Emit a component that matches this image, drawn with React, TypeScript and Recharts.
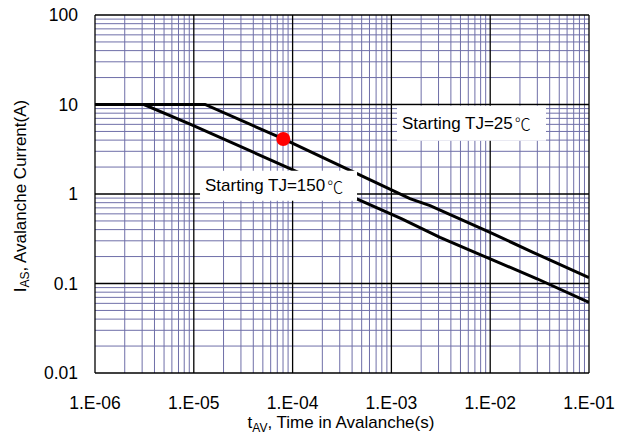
import React from 'react';
import {
  ComposedChart,
  Line,
  Scatter,
  XAxis,
  YAxis,
  ReferenceLine,
  ReferenceArea,
  Label,
} from 'recharts';

// axis ticks
const xTicks = [1e-6, 1e-5, 1e-4, 1e-3, 1e-2, 1e-1];
const xTickLabels = ['1.E-06', '1.E-05', '1.E-04', '1.E-03', '1.E-02', '1.E-01'];
const yTicks = [0.01, 0.1, 1, 10, 100];
const yTickLabels = ['0.01', '0.1', '1', '10', '100'];
const minorSteps = [2, 3, 4, 5, 6, 7, 8, 9];

// Starting TJ=25C curve
const tj25Time = [1e-6, 1.3e-5, 8.05e-5, 2.57e-4, 1.54e-3, 2.46e-3, 9.95e-3, 2.71e-2, 1e-1];
const tj25Current = [10, 10, 4.12, 2.25, 0.886, 0.74, 0.372, 0.223, 0.116];

// Starting TJ=150C curve
const tj150Time = [1e-6, 3.13e-6, 9.16e-6, 9.42e-5, 4.46e-4, 1.26e-3, 3.1e-3, 1e-2, 2.98e-2, 1e-1];
const tj150Current = [10, 10, 6.05, 1.92, 0.88, 0.53, 0.327, 0.188, 0.113, 0.0615];

// marked point
const dotTime = [8.05e-5];
const dotCurrent = [4.12];

const FONT = '"Liberation Sans", Arial, sans-serif';
const CJK = '"Noto Sans CJK SC", sans-serif';
const GRID = '#6f6fa8';

const toPoints = (xs: number[], ys: number[]) => xs.map((x, i) => ({ x, y: ys[i] }));

const tj25Data = toPoints(tj25Time, tj25Current);
const tj150Data = toPoints(tj150Time, tj150Current);
const dotData = toPoints(dotTime, dotCurrent);

const minorX = xTicks.slice(0, -1).flatMap(d => minorSteps.map(m => d * m));
const minorY = yTicks.slice(0, -1).flatMap(d => minorSteps.map(m => d * m));

const BoxText = ({ viewBox, text }: any) => (
  <text
    x={viewBox.x + 5}
    y={viewBox.y + viewBox.height / 2}
    dominantBaseline="central"
    fontSize={17}
    fontFamily={FONT}
    fill="#000"
  >
    {text}
    <tspan dx={2} fontFamily={CJK} fontSize={16} fontWeight={300}>℃</tspan>
  </text>
);

const App = () => {
  return (
    <div style={{ position: 'absolute', left: 0, top: 0, width: 626, height: 436, background: '#fff' }}>
      <ComposedChart width={626} height={436} margin={{ top: 15, right: 37, bottom: 0, left: 0 }}>
        <XAxis
          type="number"
          dataKey="x"
          scale="log"
          domain={[1e-6, 1e-1]}
          allowDataOverflow
          ticks={xTicks}
          interval={0}
          tickFormatter={(v: number) => xTickLabels[xTicks.indexOf(v)]}
          axisLine={false}
          tickLine={false}
          tickSize={0}
          tickMargin={24}
          height={63}
          tick={{ fill: '#000', fontSize: 17.5, fontFamily: FONT }}
        />
        <YAxis
          type="number"
          dataKey="y"
          scale="log"
          domain={[0.01, 100]}
          allowDataOverflow
          ticks={yTicks}
          interval={0}
          tickFormatter={(v: number) => yTickLabels[yTicks.indexOf(v)]}
          axisLine={false}
          tickLine={false}
          tickSize={0}
          tickMargin={17}
          width={95}
          tick={{ fill: '#000', fontSize: 17.5, fontFamily: FONT }}
        />

        {minorX.map(v => (
          <ReferenceLine key={`mx${v}`} x={v} stroke={GRID} strokeWidth={1} zIndex={10} />
        ))}
        {minorY.map(v => (
          <ReferenceLine key={`my${v}`} y={v} stroke={GRID} strokeWidth={1} zIndex={10} />
        ))}
        {xTicks.map(v => (
          <ReferenceLine key={`Mx${v}`} x={v} stroke="#000" strokeWidth={1.3} zIndex={11} />
        ))}
        {yTicks.map(v => (
          <ReferenceLine key={`My${v}`} y={v} stroke="#000" strokeWidth={1.3} zIndex={11} />
        ))}

        <Line
          data={tj25Data}
          dataKey="y"
          type="linear"
          stroke="#000"
          strokeWidth={3}
          dot={false}
          isAnimationActive={false}
        />
        <Line
          data={tj150Data}
          dataKey="y"
          type="linear"
          stroke="#000"
          strokeWidth={3}
          dot={false}
          isAnimationActive={false}
        />

        <ReferenceArea
          x1={1.14e-3}
          x2={3.67e-2}
          y1={3.94}
          y2={9.7}
          fill="#fff"
          fillOpacity={1}
          stroke="none"
          zIndex={450}
        >
          <Label content={(p: any) => <BoxText {...p} text="Starting TJ=25" />} />
        </ReferenceArea>
        <ReferenceArea
          x1={1.156e-5}
          x2={4.49e-4}
          y1={0.84}
          y2={1.82}
          fill="#fff"
          fillOpacity={1}
          stroke="none"
          zIndex={450}
        >
          <Label content={(p: any) => <BoxText {...p} text="Starting TJ=150" />} />
        </ReferenceArea>

        <Scatter
          data={dotData}
          dataKey="y"
          fill="#ff0000"
          isAnimationActive={false}
          shape={(p: any) => <circle cx={p.cx} cy={p.cy} r={7} fill="#ff0000" />}
        />

        <text x={341} y={428} textAnchor="middle" fontSize={17} fontFamily={FONT} fill="#000">
          t<tspan fontSize={12} dy={4}>AV</tspan>
          <tspan dy={-4}>, Time in Avalanche(s)</tspan>
        </text>
        <text
          x={26}
          y={196}
          transform="rotate(-90, 26, 196)"
          textAnchor="middle"
          fontSize={17}
          fontFamily={FONT}
          fill="#000"
        >
          I<tspan fontSize={12} dy={3}>AS</tspan>
          <tspan dy={-3}>, Avalanche Current(A)</tspan>
        </text>
      </ComposedChart>
    </div>
  );
};

export default App;
